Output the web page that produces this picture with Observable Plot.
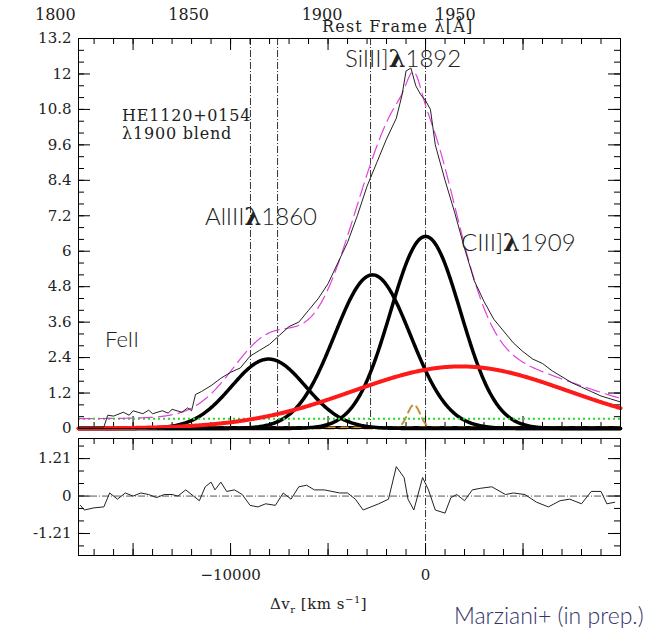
<!DOCTYPE html>
<html><head><meta charset="utf-8">
<script src="https://cdn.jsdelivr.net/npm/d3@7"></script>
<script src="https://cdn.jsdelivr.net/npm/@observablehq/plot@0.6"></script>
<style>
body{margin:0;background:#fff;width:658px;height:635px;position:relative;overflow:hidden}
.a{position:absolute;white-space:nowrap}
.serif{font-family:"DejaVu Serif",serif;font-size:15px;color:#222}
.sans{font-family:Lato,"Open Sans",sans-serif;font-weight:300;color:#222}
.sans b{font-family:"DejaVu Serif",serif;font-weight:bold}
</style></head><body>
<div id="main" class="a" style="left:0;top:0"></div>
<div id="resid" class="a" style="left:0;top:437px"></div>
<div id="labels"></div>
<script>
// observed spectrum (km/s, flux)
const obsV = [-17800,-17000,-16500,-16300,-16000,-15500,-15200,-15000,-14500,-14200,-14000,-13500,-13200,-13000,-12500,-12200,-12000,-11800,-11500,-11000,-10500,-10000,-9500,-9000,-8500,-8000,-7500,-7000,-6500,-6000,-5500,-5000,-4500,-4000,-3500,-3000,-2500,-2000,-1500,-1200,-1000,-750,-500,-250,0,250,500,1000,1500,2000,2500,3000,3500,4000,4500,5000,5500,6000,6500,7000,7500,8000,8500,9000,9500,10000];
const obsF = [0.05,0.05,0.05,0.45,0.42,0.55,0.45,0.6,0.5,0.62,0.5,0.6,0.52,0.65,0.55,0.7,0.6,1.15,1.25,1.45,1.7,1.9,2.05,2.45,2.65,2.85,3.15,3.45,3.6,4.0,4.4,4.9,5.6,6.3,7.2,8.2,9.0,9.8,10.5,11.3,12.1,12.2,11.6,11.3,11.1,10.8,9.6,8.4,7.3,6.1,5.0,4.3,3.7,3.3,2.9,2.6,2.35,2.2,1.95,1.75,1.55,1.4,1.25,1.1,1.0,0.9];
// Gaussian components: centre (km/s), peak, sigma
const lineNames = ["AlIII","SiIII","CIII","broad","narrow"];
const lineCentre = [-8050,-2720,0,1800,-600];
const linePeak = [2.35,5.2,6.5,2.1,0.8];
const lineSigma = [1900,1950,1800,5500,330];
const feLevel = 0.33;
const baseLevel = 0.03;
// residuals
const resV = [-17700,-17500,-17000,-16500,-16200,-15800,-15400,-15000,-14600,-14200,-13800,-13400,-13000,-12700,-12300,-11900,-11600,-11300,-11000,-10800,-10500,-10200,-9800,-9400,-9000,-8600,-8200,-7700,-7300,-6900,-6500,-6100,-5700,-5200,-4800,-4400,-4000,-3600,-3200,-2800,-2400,-1900,-1500,-1100,-900,-600,-150,150,500,1000,1300,1600,2000,2400,2800,3400,4100,4500,5100,5700,6300,6900,7400,8000,8500,9000,9300,9700,10000];
const resF = [-0.3,-0.45,-0.38,-0.35,0.1,-0.1,0.1,0.0,0.1,0.05,-0.05,0.05,0.05,0.0,0.2,0.0,-0.15,0.3,0.45,0.2,0.45,0.15,0.2,0.05,-0.3,-0.35,-0.25,-0.3,0.1,-0.1,0.3,0.35,0.2,0.2,0.15,0.1,0.1,-0.1,-0.45,-0.35,-0.25,-0.1,0.95,0.6,-0.1,-0.45,0.6,0.2,-0.45,-0.55,-0.05,0.05,-0.15,0.2,0.25,0.3,0.05,0.1,0.05,-0.2,-0.35,-0.15,-0.1,-0.25,0.15,0.15,-0.25,-0.2];
const markV = [-8980,-7590,-2820,0];
const yTicksMain = [0,1.2,2.4,3.6,4.8,6,7.2,8.4,9.6,10.8,12,13.2];
const yTicksRes = [-1.21,0,1.21];
const xTicks = [-10000,0];
const lambdaTicks = [1800,1850,1900,1950];

const X0=-17800, X1=10000;
const grid = d3.range(X0, X1+1, 50);
const g = (i,v)=>linePeak[i]*Math.exp(-((v-lineCentre[i])**2)/(2*lineSigma[i]**2));
const comp = lineNames.map((n,i)=>grid.map(v=>({v,f:g(i,v)})));
const total = grid.map(v=>({v,f:feLevel+lineNames.reduce((s,_,i)=>s+g(i,v),0)}));
const obs = obsV.map((v,i)=>({v,f:obsF[i]}));
const res = resV.map((v,i)=>({v,f:resF[i]}));
const minorX = d3.range(-17000,10001,1000);
const majorX = d3.range(-15000,10001,5000);
const serif = "DejaVu Serif, serif";

const kmPerPx = (X1-X0)/(620-78);
function tickMarks(yLo, yHi, pxPerY, yMinor, yMajor){
  const ly=v=>v/pxPerY;
  return [
    Plot.ruleX(minorX,{y1:yLo,y2:yLo+ly(6),stroke:"#000"}),
    Plot.ruleX(majorX,{y1:yLo,y2:yLo+ly(12),stroke:"#000"}),
    Plot.ruleX(minorX,{y1:yHi,y2:yHi-ly(6),stroke:"#000"}),
    Plot.ruleX(majorX,{y1:yHi,y2:yHi-ly(12),stroke:"#000"}),
    Plot.ruleY(yMinor,{x1:X0,x2:X0+6*kmPerPx,stroke:"#000"}),
    Plot.ruleY(yMajor,{x1:X0,x2:X0+12*kmPerPx,stroke:"#000"}),
    Plot.ruleY(yMinor,{x1:X1,x2:X1-6*kmPerPx,stroke:"#000"}),
    Plot.ruleY(yMajor,{x1:X1,x2:X1-12*kmPerPx,stroke:"#000"})
  ];
}
const mainPx = 390/13.2;
const main = Plot.plot({
  width:658,height:436,marginLeft:78,marginRight:38,marginTop:38,marginBottom:8,
  style:{fontFamily:serif,fontSize:"15px",color:"#222",background:"transparent"},
  x:{domain:[X0,X1],axis:null},
  y:{domain:[0,13.2],ticks:yTicksMain,tickSize:0,tickPadding:7,label:null,tickFormat:d=>String(+d.toFixed(1))},
  marks:[
    ...tickMarks(0,13.2,mainPx,d3.range(0,13.21,0.4).map(d=>+d.toFixed(1)),yTicksMain),
    Plot.ruleX(markV,{stroke:"#000",strokeWidth:0.8,strokeDasharray:"7,2,1,2"}),
    Plot.ruleY([baseLevel],{x1:-13000,x2:X1,stroke:"#000",strokeWidth:3}),
    Plot.ruleY([baseLevel],{x1:-13000,x2:X1,stroke:"#c8903a",strokeWidth:2,strokeDasharray:"8,5"}),
    Plot.line(comp[4],{x:"v",y:"f",stroke:"#c8903a",strokeWidth:2,strokeDasharray:"8,5"}),
    Plot.line(comp[0],{x:"v",y:"f",stroke:"#000",strokeWidth:3.5}),
    Plot.line(comp[1],{x:"v",y:"f",stroke:"#000",strokeWidth:3.5}),
    Plot.line(comp[2],{x:"v",y:"f",stroke:"#000",strokeWidth:3.5}),
    Plot.ruleY([feLevel],{stroke:"#22dd22",strokeWidth:2,strokeDasharray:"2,3"}),
    Plot.line(comp[3],{x:"v",y:"f",stroke:"#ff1a1a",strokeWidth:4}),
    Plot.line(total,{x:"v",y:"f",stroke:"#e040e0",strokeWidth:1.2,strokeDasharray:"14,6"}),
    Plot.line(obs,{x:"v",y:"f",stroke:"#222",strokeWidth:1}),
    Plot.frame({stroke:"#000"})
  ]
});
document.getElementById("main").appendChild(main);

const resPx = 37.5/1.21;
const resid = Plot.plot({
  width:658,height:198,marginLeft:78,marginRight:38,marginTop:1,marginBottom:80,
  style:{fontFamily:serif,fontSize:"15px",color:"#222",background:"transparent"},
  x:{domain:[X0,X1],ticks:xTicks,tickSize:0,tickPadding:14,label:null,tickFormat:d=>d<0?"\u2212"+Math.abs(d):String(d)},
  y:{domain:[-1.92,1.86],ticks:yTicksRes,tickSize:0,tickPadding:7,label:null,tickFormat:d=>d<0?"-1.21":String(d)},
  marks:[
    ...tickMarks(-1.92,1.86,resPx,d3.range(-1.61,1.62,0.4033).map(d=>+d.toFixed(3)),yTicksRes),
    Plot.ruleY([0],{stroke:"#555",strokeDasharray:"7,2,1,2"}),
    Plot.ruleX([0],{stroke:"#000",strokeWidth:0.8,strokeDasharray:"7,2,1,2"}),
    Plot.line(res,{x:"v",y:"f",stroke:"#222",strokeWidth:1}),
    Plot.frame({stroke:"#000"})
  ]
});
document.getElementById("resid").appendChild(resid);

const lam = d3.scaleLinear([1800,1950],[55,455]);
const L = document.getElementById("labels");
function add(html, cls, x, y, style=""){
  const d=document.createElement("div");d.className="a "+cls;d.innerHTML=html;
  d.style.cssText+=`left:${x}px;top:${y}px;${style}`;L.appendChild(d);return d;
}
lambdaTicks.forEach(t=>{add(String(t),"serif",lam(t)-20,5,"font-size:16px")});
add("Rest Frame &lambda;[&Aring;]","serif",322,19,"font-size:16px;letter-spacing:1.2px;line-height:16px");
add("HE1120+0154","serif",122,106,"font-size:16px;letter-spacing:0.8px");
add("&lambda;1900 blend","serif",122,124,"font-size:16px;letter-spacing:0.8px");
add("SiIII]<b>&lambda;</b>1892","sans",345,43,"font-size:24px");
add("AlIII<b>&lambda;</b>1860","sans",205,201,"font-size:24px");
add("CIII]<b>&lambda;</b>1909","sans",461,227,"font-size:24px");
add("FeII","sans",105,325,"font-size:22px");
add("&Delta;v<sub style='font-size:10px'>r</sub> [km s<sup style='font-size:10px'>&minus;1</sup>]","serif",270,594,"font-size:15px;letter-spacing:0.5px");
add("Marziani+ (in prep.)","sans",454,601,"font-size:23px;color:#33336a");
</script></body></html>
